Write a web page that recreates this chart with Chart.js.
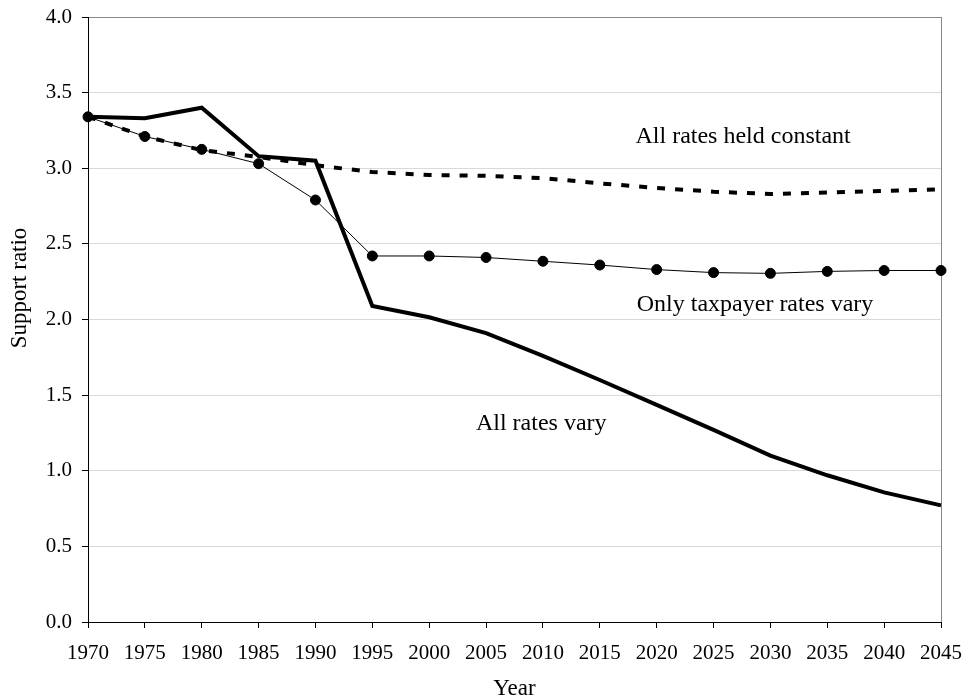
<!DOCTYPE html>
<html>
<head>
<meta charset="utf-8">
<script src="https://cdn.jsdelivr.net/npm/chart.js@4"></script>
<style>
  body { margin: 0; background: #fff; }
  canvas { display: block; }
</style>
</head>
<body>
<canvas id="supportChart" width="964" height="700"></canvas>
<script>
let years = ["1970", "1975", "1980", "1985", "1990", "1995", "2000", "2005",
  "2010", "2015", "2020", "2025", "2030", "2035", "2040", "2045"];

let allRatesVary = [3.34, 3.33, 3.40, 3.08, 3.05, 2.09, 2.015, 1.91,
  1.76, 1.60, 1.435, 1.27, 1.10, 0.97, 0.857, 0.771];
let taxpayerRatesVary = [3.34, 3.21, 3.125, 3.03, 2.79, 2.42, 2.42, 2.41,
  2.385, 2.36, 2.33, 2.31, 2.305, 2.318, 2.324, 2.324];
let allRatesConstant = [3.34, 3.21, 3.12, 3.075, 3.02, 2.975, 2.955, 2.95,
  2.935, 2.90, 2.87, 2.845, 2.83, 2.84, 2.85, 2.86];

let yTicks = [0, 0.5, 1, 1.5, 2, 2.5, 3, 3.5, 4];

// series labels written inside the plot (x = category index, y = value)
let labelTexts = ["All rates held constant", "Only taxpayer rates vary", "All rates vary"];
let labelX = [11.52, 11.73, 7.97];
let labelY = [3.207, 2.10, 1.31];

let serif = "'Liberation Serif', 'Times New Roman', serif";

let seriesLabels = {
  id: "seriesLabels",
  afterDatasetsDraw(chart) {
    let ctx = chart.ctx, xs = chart.scales.x, ys = chart.scales.y;
    ctx.save();
    ctx.fillStyle = "#000";
    ctx.font = "24px " + serif;
    ctx.textAlign = "center";
    ctx.textBaseline = "middle";
    labelTexts.forEach((t, i) => {
      ctx.fillText(t, xs.getPixelForValue(labelX[i]), ys.getPixelForValue(labelY[i]));
    });
    // y axis title, sits a bit above the middle of the axis
    ctx.translate(20, 288);
    ctx.rotate(-Math.PI / 2);
    ctx.font = "23px " + serif;
    ctx.fillText("Support ratio", 0, 0);
    ctx.restore();
  },
};

new Chart(document.getElementById("supportChart"), {
  type: "line",
  data: {
    labels: years,
    datasets: [
      {
        data: allRatesVary,
        borderColor: "#000",
        borderWidth: 4,
        pointRadius: 0,
        tension: 0,
      },
      {
        data: taxpayerRatesVary,
        borderColor: "#000",
        borderWidth: 1,
        pointRadius: 5,
        pointBackgroundColor: "#000",
        pointBorderColor: "#000",
        tension: 0,
      },
      {
        data: allRatesConstant,
        borderColor: "#000",
        borderWidth: 4,
        borderDash: [8, 10],
        pointRadius: 0,
        tension: 0,
      },
    ],
  },
  options: {
    responsive: false,
    animation: false,
    layout: { padding: { top: 17, right: 23, left: 0, bottom: 0 } },
    plugins: {
      legend: { display: false },
      tooltip: { enabled: false },
    },
    scales: {
      x: {
        type: "category",
        offset: false,
        afterFit: (scale) => {
          scale.height = 78;
          scale.paddingLeft = 0;
          scale.paddingRight = 0;
        },
        grid: {
          color: (c) => (c.index === years.length - 1 ? "#888" : "rgba(0,0,0,0)"),
          tickColor: "#000",
          tickLength: 6,
          drawTicks: true,
        },
        border: { color: "#000", width: 1 },
        ticks: {
          color: "#000",
          font: { family: serif, size: 21 },
          padding: 13,
          maxRotation: 0,
          autoSkip: false,
        },
        title: {
          display: true,
          text: "Year",
          color: "#000",
          font: { family: serif, size: 23 },
          padding: { top: 0, bottom: -3 },
        },
      },
      y: {
        min: 0,
        max: 4,
        afterFit: (scale) => {
          scale.width = 88;
          scale.paddingTop = 0;
          scale.paddingBottom = 0;
        },
        afterBuildTicks: (scale) => { scale.ticks = yTicks.map((v) => ({ value: v })); },
        grid: {
          color: (c) => (c.index === 0 ? "rgba(0,0,0,0)" : c.index === yTicks.length - 1 ? "#888" : "#d9d9d9"),
          tickColor: "#000",
          tickLength: 6,
        },
        border: { color: "#000", width: 1 },
        ticks: {
          color: "#000",
          font: { family: serif, size: 21 },
          padding: 10,
          callback: (v) => Number(v).toFixed(1),
        },
      },
    },
  },
  plugins: [seriesLabels],
});
</script>
</body>
</html>
